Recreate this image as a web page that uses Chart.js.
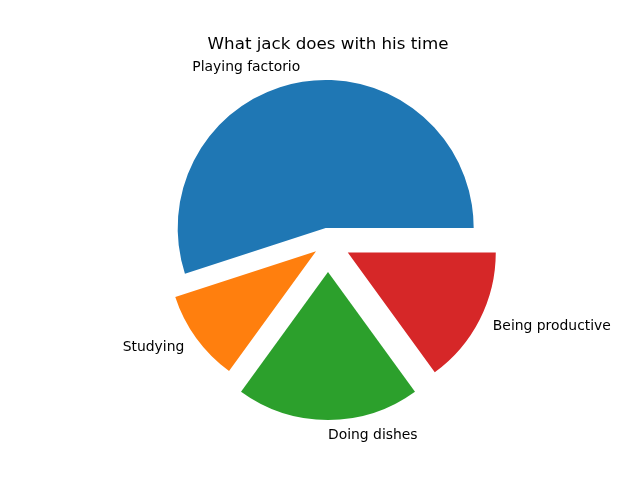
<!DOCTYPE html>
<html><head><meta charset="utf-8">
<script src="https://cdn.jsdelivr.net/npm/chart.js@4/dist/chart.umd.min.js"></script>
<style>html,body{margin:0;padding:0;background:#fff}#wrap{width:640px;height:480px}</style>
</head><body><div id="wrap"><canvas id="c" width="640" height="480"></canvas></div>
<script>
const categories = ['Playing factorio', 'Studying', 'Doing dishes', 'Being productive'];
const shares = [55, 10, 20, 15];
const explode = [0.1, 0.1, 0.2, 0.15];
const colors = ['#1f77b4', '#ff7f0e', '#2ca02c', '#d62728'];
const chartTitle = 'What jack does with his time';

// matplotlib draws counter-clockwise from east; Chart.js draws clockwise -> reverse order
const order = categories.map((_, i) => i).reverse();

const explodePlugin = {
  id: 'explodeSlices',
  afterDatasetUpdate(chart, args) {
    const ds = chart.data.datasets[args.index];
    const meta = chart.getDatasetMeta(args.index);
    meta.data.forEach((arc, i) => {
      const mid = (arc.startAngle + arc.endAngle) / 2;
      const d = ds.explode[i] * arc.outerRadius;
      arc.x += Math.cos(mid) * d;
      arc.y += Math.sin(mid) * d;
    });
  }
};

const labelPlugin = {
  id: 'sliceLabels',
  afterDatasetsDraw(chart) {
    const ctx = chart.ctx;
    const meta = chart.getDatasetMeta(0);
    ctx.save();
    ctx.font = '13.9px "DejaVu Sans"';
    ctx.fillStyle = '#000';
    ctx.textBaseline = 'middle';
    meta.data.forEach((arc, i) => {
      const mid = (arc.startAngle + arc.endAngle) / 2;
      const c = Math.cos(mid);
      const x = arc.x + c * 1.1 * arc.outerRadius;
      const y = arc.y + Math.sin(mid) * 1.1 * arc.outerRadius;
      ctx.textAlign = c >= -1e-9 ? 'left' : 'right';
      ctx.fillText(chart.data.labels[i], x, y);
    });
    ctx.restore();
  }
};

Chart.defaults.font.family = '"DejaVu Sans"';
Chart.defaults.color = '#000';

new Chart(document.getElementById('c'), {
  type: 'pie',
  data: {
    labels: order.map(i => categories[i]),
    datasets: [{
      data: order.map(i => shares[i]),
      backgroundColor: order.map(i => colors[i]),
      explode: order.map(i => explode[i]),
      borderWidth: 0,
      hoverOffset: 0
    }]
  },
  options: {
    responsive: false,
    animation: false,
    rotation: 90,
    radius: 148,
    layout: { padding: { left: 16, right: 0, top: 0, bottom: 50 } },
    plugins: {
      legend: { display: false },
      tooltip: { enabled: false },
      title: {
        display: true,
        text: chartTitle,
        font: { size: 16.7, weight: 'normal' },
        padding: { top: 35, bottom: 0 },
        color: '#000'
      }
    }
  },
  plugins: [explodePlugin, labelPlugin]
});
</script>
</body></html>
